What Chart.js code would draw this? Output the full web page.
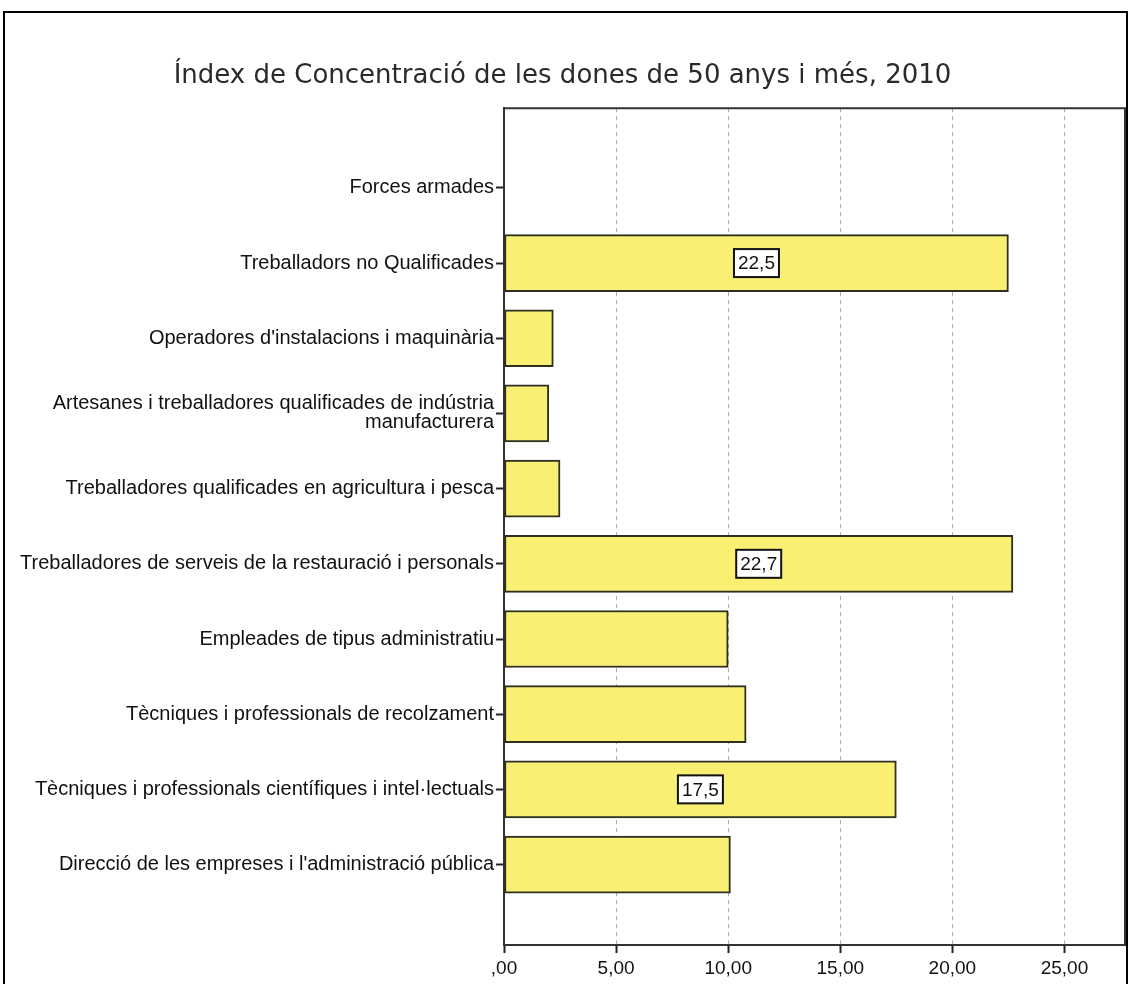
<!DOCTYPE html>
<html>
<head>
<meta charset="utf-8">
<script src="https://cdn.jsdelivr.net/npm/chart.js"></script>
<style>
  body { margin: 0; background: #fff; }
  #wrap { position: relative; width: 1130px; height: 984px; }
  #frame { position: absolute; left: 3px; top: 11px; width: 1121px; height: 990px; border: 2px solid #000; pointer-events: none; }
</style>
</head>
<body>
<div id="wrap">
  <canvas id="grafico" width="1130" height="984"></canvas>
  <div id="frame"></div>
</div>
<script>
// categories, top to bottom
const categorias = [
    'Forces armades',
    'Treballadors no Qualificades',
    "Operadores d'instalacions i maquinària",
    ['Artesanes i treballadores qualificades de indústria', 'manufacturera'],
    'Treballadores qualificades en agricultura i pesca',
    'Treballadores de serveis de la restauració i personals',
    'Empleades de tipus administratiu',
    'Tècniques i professionals de recolzament',
    'Tècniques i professionals científiques i intel·lectuals',
    "Direcció de les empreses i l'administració pública"
]
const valores = [0, 22.5, 2.2, 2.0, 2.5, 22.7, 10.0, 10.8, 17.5, 10.1]
const ejeXTicks = [0, 5, 10, 15, 20, 25]
const etiquetasVisibles = [1, 5, 8] // bars with a value box

const fmt = (v, d) => {
    let s = v.toFixed(d).replace('.', ',')
    return s.startsWith('0,') ? s.slice(1) : s
}

// box with value in the middle of the bar
const valueBoxes = {
    id: 'valueBoxes',
    afterDatasetsDraw(chart) {
        const ctx = chart.ctx
        const meta = chart.getDatasetMeta(0)
        ctx.save()
        ctx.font = '19px "Liberation Sans", Arial, sans-serif'
        ctx.textAlign = 'center'
        ctx.textBaseline = 'middle'
        etiquetasVisibles.forEach((i) => {
            const bar = meta.data[i]
            const cx = (bar.x + bar.base) / 2
            const cy = bar.y
            const txt = fmt(valores[i], 1)
            const w = ctx.measureText(txt).width + 8
            const h = 28
            ctx.fillStyle = '#fff'
            ctx.fillRect(cx - w / 2, cy - h / 2, w, h)
            ctx.strokeStyle = '#111'
            ctx.lineWidth = 2
            ctx.strokeRect(cx - w / 2, cy - h / 2, w, h)
            ctx.fillStyle = '#111'
            ctx.fillText(txt, cx, cy + 1)
        })
        ctx.restore()
    }
}

// top + right border of the plot
const plotFrame = {
    id: 'plotFrame',
    afterDraw(chart) {
        const {ctx, chartArea: a} = chart
        ctx.save()
        ctx.strokeStyle = '#333'
        ctx.lineWidth = 2
        ctx.beginPath()
        ctx.moveTo(a.left, a.top)
        ctx.lineTo(a.right, a.top)
        ctx.lineTo(a.right, a.bottom)
        ctx.stroke()
        ctx.restore()
    }
}

Chart.defaults.font.family = '"Liberation Sans", Arial, sans-serif'
Chart.defaults.font.size = 20
Chart.defaults.color = '#111'

const config = {
    type: 'bar',
    data: {
        datasets: [{
            data: valores.map((v, i) => ({x: v, y: i})),
            backgroundColor: '#f9f073',
            borderColor: '#2e2e22',
            borderWidth: 2,
            borderSkipped: false,
            barThickness: 57
        }]
    },
    options: {
        indexAxis: 'y',
        responsive: false,
        animation: false,
        layout: { padding: { left: 0, right: 5, top: 0, bottom: 0 } },
        plugins: {
            legend: { display: false },
            tooltip: { enabled: false },
            title: {
                display: true,
                text: 'Índex de Concentració de les dones de 50 anys i més, 2010',
                font: { family: '"DejaVu Sans", Verdana, sans-serif', size: 26, weight: 'normal', lineHeight: 1.2 },
                color: '#2a2a2a',
                padding: { top: 61, bottom: 16 }
            }
        },
        scales: {
            x: {
                type: 'linear',
                min: 0,
                max: 27.7,
                afterBuildTicks: (axis) => { axis.ticks = ejeXTicks.map((v) => ({value: v})) },
                afterFit: (scale) => { scale.height = 39 },
                ticks: { padding: 4, callback: (v) => fmt(v, 2), color: '#111', font: { size: 19 } },
                grid: { color: '#aaa', tickColor: '#222', tickLength: 8, tickWidth: 2 },
                border: { color: '#333', width: 2, dash: [4, 4] }
            },
            y: {
                type: 'linear',
                reverse: true,
                offset: false,
                min: -1.06,
                max: 10.07,
                afterBuildTicks: (axis) => { axis.ticks = categorias.map((c, i) => ({value: i})) },
                afterFit: (scale) => { scale.width = 504 },
                ticks: { padding: 2, autoSkip: false, callback: (v) => categorias[v], color: '#111', font: { lineHeight: 0.95 } },
                grid: { offset: false, drawOnChartArea: false, tickColor: '#222', tickLength: 8, tickWidth: 2 },
                border: { color: '#333', width: 2 }
            }
        }
    },
    plugins: [valueBoxes, plotFrame]
}

const chartDom = document.getElementById('grafico')
const chartjs = new Chart(chartDom, config)
</script>
</body>
</html>
